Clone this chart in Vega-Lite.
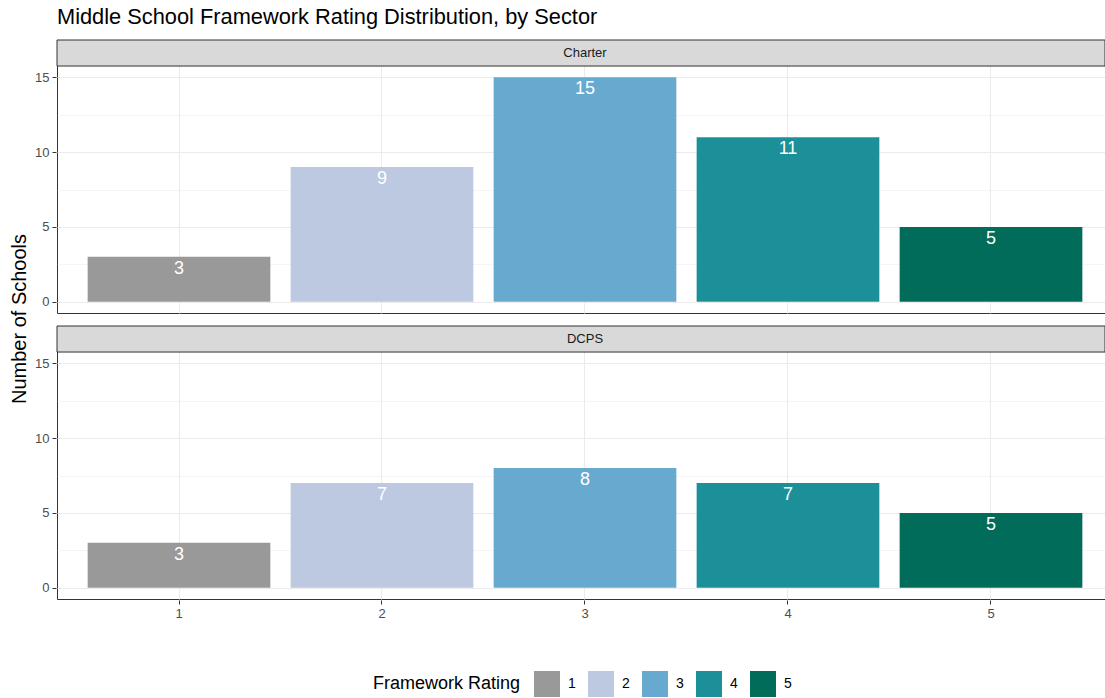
{
  "$schema": "https://vega.github.io/schema/vega-lite/v6.json",
  "padding": {"left": 9, "top": 7, "right": 0, "bottom": 2},
  "title": {"text": "Middle School Framework Rating Distribution, by Sector", "anchor": "start", "frame": "group", "fontSize": 21.8, "fontWeight": "normal", "font": "Liberation Sans", "color": "#000000", "offset": 10},
  "data": {"values": [
    {"sector": "Charter", "rating": "1", "count": 3},
    {"sector": "Charter", "rating": "2", "count": 9},
    {"sector": "Charter", "rating": "3", "count": 15},
    {"sector": "Charter", "rating": "4", "count": 11},
    {"sector": "Charter", "rating": "5", "count": 5},
    {"sector": "DCPS", "rating": "1", "count": 3},
    {"sector": "DCPS", "rating": "2", "count": 7},
    {"sector": "DCPS", "rating": "3", "count": 8},
    {"sector": "DCPS", "rating": "4", "count": 7},
    {"sector": "DCPS", "rating": "5", "count": 5}
  ]},
  "facet": {"row": {"field": "sector", "type": "nominal", "sort": ["Charter", "DCPS"], "title": "Number of Schools",
                    "header": {"labels": false, "titleFontSize": 20, "titleFontWeight": "normal", "titleColor": "#000000", "titleFont": "Liberation Sans", "titlePadding": -6, "titleOrient": "left"}}},
  "spacing": {"row": 11},
  "spec": {
    "width": 1048,
    "height": 273,
    "layer": [
      {
        "mark": {"type": "bar"},
        "encoding": {
          "x": {"field": "rating", "type": "nominal", "scale": {"paddingInner": 0.1, "paddingOuter": 0.1313, "align": 0.575},
                "axis": {"title": null, "labelAngle": 0, "bandPosition": 0.5, "grid": true, "gridColor": "#EBEBEB", "gridWidth": 1, "tickSize": 4, "tickColor": "#333333", "domain": false, "labelFontSize": 13, "labelColor": "#4D4D4D", "labelPadding": 3, "labelFont": "Liberation Sans"}},
          "y": {"field": "count", "type": "quantitative", "scale": {"domain": [-0.75, 17.49], "nice": false, "zero": false},
                "axis": {"title": null, "values": [0, 2.5, 5, 7.5, 10, 12.5, 15],
                         "labelExpr": "datum.value % 5 == 0 ? datum.label : ''",
                         "tickColor": {"condition": {"test": "datum.value % 5 != 0", "value": "transparent"}, "value": "#333333"},
                         "gridWidth": {"condition": {"test": "datum.value % 5 != 0", "value": 0.5}, "value": 1},
                         "gridColor": "#EBEBEB", "grid": true, "tickSize": 4, "domain": false,
                         "labelFontSize": 13, "labelColor": "#4D4D4D", "labelPadding": 3, "labelFont": "Liberation Sans"}},
          "y2": {"datum": 0},
          "color": {"field": "rating", "type": "nominal",
                    "scale": {"domain": ["1", "2", "3", "4", "5"], "range": ["#999999", "#BDC9E1", "#67A9CF", "#1C9099", "#016C59"]},
                    "legend": {"orient": "none", "legendX": 316, "legendY": 631, "direction": "horizontal", "title": "Framework Rating", "titleOrient": "left",
                               "titleFontSize": 18, "titleFontWeight": "normal", "titleColor": "#000000", "titleFont": "Liberation Sans", "titlePadding": 13,
                               "labelFontSize": 14, "labelColor": "#000000", "labelFont": "Liberation Sans",
                               "symbolType": "square", "symbolSize": 676, "symbolStrokeWidth": 0, "symbolOpacity": 1,
                               "labelOffset": 8, "columnPadding": 12}}
        }
      },
      {
        "mark": {"type": "text", "color": "#FFFFFF", "fontSize": 18, "dy": 17, "baseline": "alphabetic", "font": "Liberation Sans"},
        "encoding": {
          "x": {"field": "rating", "type": "nominal"},
          "y": {"field": "count", "type": "quantitative"},
          "text": {"field": "count"}
        }
      },
      {
        "transform": [{"aggregate": [{"op": "count", "as": "n"}], "groupby": ["sector"]}],
        "mark": {"type": "rect", "fill": "#D9D9D9", "stroke": "#333333", "strokeWidth": 1},
        "encoding": {
          "x": {"value": 0},
          "x2": {"value": "width"},
          "y": {"datum": 15.75},
          "y2": {"datum": 17.49}
        }
      },
      {
        "transform": [{"aggregate": [{"op": "count", "as": "n"}], "groupby": ["sector"]}],
        "mark": {"type": "text", "fontSize": 13, "color": "#1A1A1A", "baseline": "middle", "font": "Liberation Sans"},
        "encoding": {
          "x": {"datum": "3"},
          "y": {"datum": 16.62},
          "text": {"field": "sector"}
        }
      }
    ]
  },
  "config": {
    "view": {"stroke": "#333333", "strokeWidth": 1},
    "font": "Liberation Sans"
  }
}
